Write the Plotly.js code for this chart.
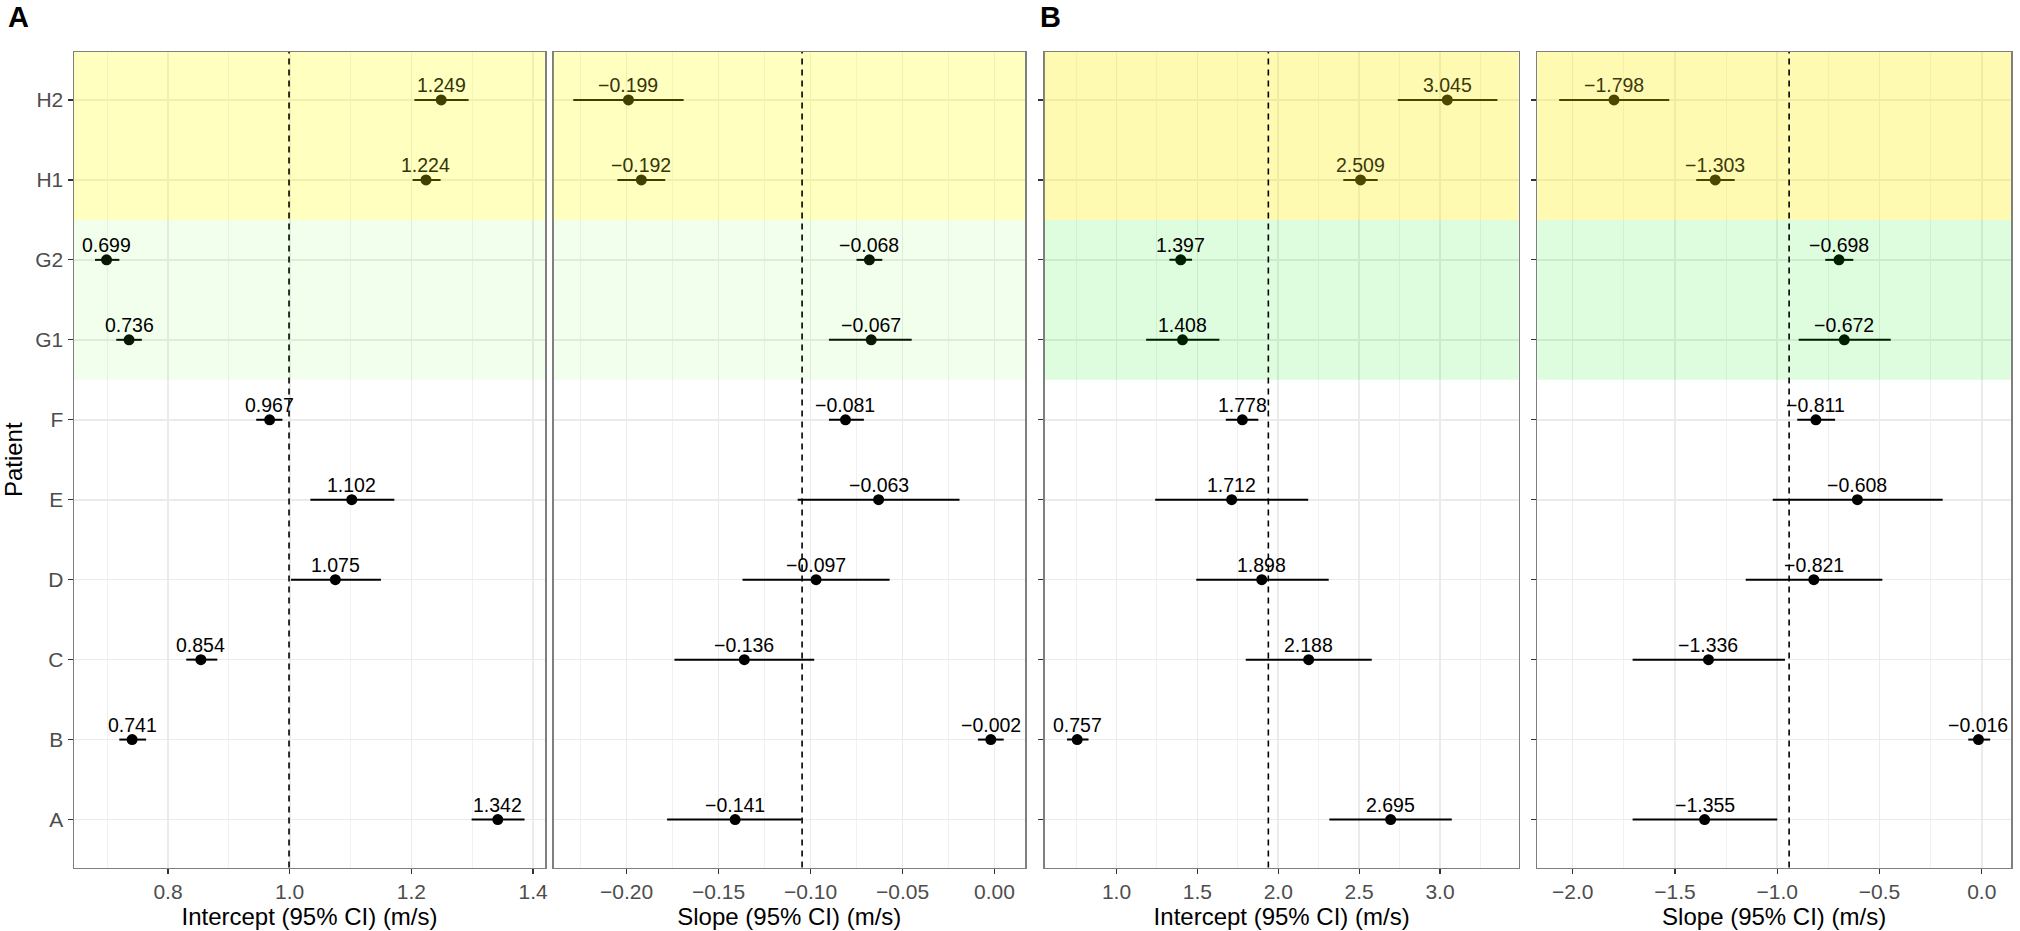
<!DOCTYPE html>
<html>
<head>
<meta charset="utf-8">
<script src="https://cdn.plot.ly/plotly-3.0.1.min.js"></script>
<style>html,body{margin:0;padding:0;background:#fff;}#chart{width:2020px;height:931px;}</style>
</head>
<body>
<div id="chart"></div>
<script>
// ---- data ----
const patients = ['A','B','C','D','E','F','G1','G2','H1','H2'];

const interceptA    = [1.342, 0.741, 0.854, 1.075, 1.102, 0.967, 0.736, 0.699, 1.224, 1.249];
const interceptA_lo = [1.299, 0.720, 0.830, 1.002, 1.034, 0.945, 0.715, 0.680, 1.202, 1.205];
const interceptA_hi = [1.386, 0.764, 0.881, 1.150, 1.172, 0.988, 0.757, 0.720, 1.248, 1.294];

const slopeA    = [-0.141, -0.002, -0.136, -0.097, -0.063, -0.081, -0.067, -0.068, -0.192, -0.199];
const slopeA_lo = [-0.178, -0.009, -0.174, -0.137, -0.107, -0.090, -0.090, -0.075, -0.205, -0.229];
const slopeA_hi = [-0.105,  0.005, -0.098, -0.057, -0.019, -0.071, -0.045, -0.061, -0.179, -0.169];

const interceptB    = [2.695, 0.757, 2.188, 1.898, 1.712, 1.778, 1.408, 1.397, 2.509, 3.045];
const interceptB_lo = [2.316, 0.694, 1.799, 1.493, 1.239, 1.676, 1.183, 1.327, 2.402, 2.739];
const interceptB_hi = [3.073, 0.827, 2.578, 2.312, 2.185, 1.877, 1.636, 1.467, 2.615, 3.355];

const slopeB    = [-1.355, -0.016, -1.336, -0.821, -0.608, -0.811, -0.672, -0.698, -1.303, -1.798];
const slopeB_lo = [-1.707, -0.066, -1.707, -1.154, -1.022, -0.902, -0.895, -0.765, -1.396, -2.066];
const slopeB_hi = [-1.000,  0.041, -0.962, -0.486, -0.191, -0.717, -0.445, -0.628, -1.208, -1.528];

const ticksInterceptA = [0.8, 1.0, 1.2, 1.4];
const ticksSlopeA     = [-0.20, -0.15, -0.10, -0.05, 0.00];
const ticksInterceptB = [1.0, 1.5, 2.0, 2.5, 3.0];
const ticksSlopeB     = [-2.0, -1.5, -1.0, -0.5, 0.0];

const xTitleIntercept = 'Intercept (95% CI) (m/s)';
const xTitleSlope = 'Slope (95% CI) (m/s)';
const yTitle = 'Patient';

// ---- build ----
const FONT = 'Liberation Sans, Arial, Helvetica, sans-serif';
const W = 2020, H = 931;
const px = v => v / W;
const yDom = [(H - 867.5) / H, (H - 52) / H];

const panels = [
  {est: interceptA, lo: interceptA_lo, hi: interceptA_hi, ticks: ticksInterceptA, fmt: '.1f', minor: 0.1,
   range: [0.6455, 1.4196], dom: [px(74), px(545)], title: xTitleIntercept,
   yellow: 'rgba(255,255,0,0.25)', green: 'rgba(110,255,60,0.09)', hText: 'rgb(52,52,8)'},
  {est: slopeA, lo: slopeA_lo, hi: slopeA_hi, ticks: ticksSlopeA, fmt: '.2f', minor: 0.025,
   range: [-0.2397, 0.0166], dom: [px(553.6), px(1025)], title: xTitleSlope,
   yellow: 'rgba(255,255,0,0.25)', green: 'rgba(110,255,60,0.09)', hText: 'rgb(52,52,8)'},
  {est: interceptB, lo: interceptB_lo, hi: interceptB_hi, ticks: ticksInterceptB, fmt: '.1f', minor: 0.25,
   range: [0.556, 3.486], dom: [px(1044.7), px(1518.6)], title: xTitleIntercept,
   yellow: 'rgba(255,240,0,0.30)', green: 'rgba(0,235,0,0.13)', hText: 'rgb(60,58,10)'},
  {est: slopeB, lo: slopeB_lo, hi: slopeB_hi, ticks: ticksSlopeB, fmt: '.1f', minor: 0.25,
   range: [-2.173, 0.143], dom: [px(1537.3), px(2011)], title: xTitleSlope,
   yellow: 'rgba(255,240,0,0.30)', green: 'rgba(0,235,0,0.13)', hText: 'rgb(60,58,10)'}
];

const fmtLabel = v => (v < 0 ? '\u2212' : '') + Math.abs(v).toFixed(3);
const mean = a => a.reduce((s, v) => s + v, 0) / a.length;

const traces = [];
const shapes = [];
const annotations = [
  {text: '<b>A</b>', xref: 'paper', yref: 'paper', x: px(6), y: (H - 17) / H,
   xanchor: 'left', yanchor: 'middle', showarrow: false, font: {size: 29, family: FONT, color: '#000'}},
  {text: '<b>B</b>', xref: 'paper', yref: 'paper', x: px(1038), y: (H - 17) / H,
   xanchor: 'left', yanchor: 'middle', showarrow: false, font: {size: 29, family: FONT, color: '#000'}}
];
const layout = {
  width: W, height: H,
  margin: {l: 0, r: 0, t: 0, b: 0},
  paper_bgcolor: '#fff', plot_bgcolor: '#fff',
  showlegend: false,
  font: {family: FONT, color: '#000'},
  annotations: annotations,
  shapes: shapes
};

const gIdx = patients.indexOf('G1'), hIdx = patients.indexOf('H1');

panels.forEach((p, i) => {
  const n = i === 0 ? '' : String(i + 1);
  const xa = 'x' + n, ya = 'y' + n;
  traces.push({
    type: 'scatter', mode: 'markers',
    x: p.est, y: patients, xaxis: xa, yaxis: ya,
    marker: {size: 11, color: '#000'},
    cliponaxis: false,
    error_x: {type: 'data', symmetric: false,
      array: p.hi.map((h, k) => h - p.est[k]),
      arrayminus: p.lo.map((l, k) => p.est[k] - l),
      width: 0, thickness: 2, color: '#000'},
    hoverinfo: 'skip'
  });
  p.est.forEach((v, k) => {
    annotations.push({
      xref: xa, yref: ya, x: v, y: patients[k], text: fmtLabel(v),
      showarrow: false, xanchor: 'center', yanchor: 'middle', yshift: 15,
      font: {size: 19.5, family: FONT, color: k >= hIdx ? p.hText : '#000'}
    });
  });
  layout['xaxis' + n] = {
    domain: p.dom, anchor: ya, range: p.range,
    tickmode: 'array', tickvals: p.ticks, tickformat: p.fmt,
    tickfont: {size: 21, color: '#4D4D4D', family: FONT},
    ticks: 'outside', ticklen: 5, tickcolor: '#333', tickwidth: 1.2,
    showgrid: true, gridcolor: '#EBEBEB', gridwidth: 1.6,
    minor: {dtick: p.minor, tick0: 0, showgrid: true, gridcolor: '#EFEFEF', gridwidth: 0.9, ticks: ''},
    showline: true, mirror: true, linecolor: '#7F7F7F', linewidth: 1.5,
    zeroline: false, automargin: false,
    title: {text: p.title, font: {size: 24, family: FONT, color: '#000'}, standoff: 5}
  };
  layout['yaxis' + n] = {
    domain: yDom, anchor: xa, type: 'category',
    categoryorder: 'array', categoryarray: patients,
    range: [-0.6, patients.length - 0.4],
    showticklabels: i === 0,
    tickfont: {size: 21, color: '#4D4D4D', family: FONT},
    ticks: i === 1 ? '' : 'outside', ticklen: 5, tickcolor: '#333', tickwidth: 1.2,
    showgrid: true, gridcolor: '#EBEBEB', gridwidth: 1.6,
    showline: true, mirror: true, linecolor: '#7F7F7F', linewidth: 1.5,
    zeroline: false, automargin: false,
    title: i === 0 ? {text: yTitle, font: {size: 24, family: FONT, color: '#000'}, standoff: 6} : {text: ''}
  };
  // group bands (H rows yellow, G rows green)
  shapes.push({type: 'rect', xref: xa + ' domain', yref: ya, x0: 0, x1: 1,
    y0: hIdx - 0.5, y1: patients.length - 0.4, fillcolor: p.yellow, line: {width: 0}, layer: 'above'});
  shapes.push({type: 'rect', xref: xa + ' domain', yref: ya, x0: 0, x1: 1,
    y0: gIdx - 0.5, y1: hIdx - 0.5, fillcolor: p.green, line: {width: 0}, layer: 'above'});
  // dashed mean line
  const m = mean(p.est);
  shapes.push({type: 'line', xref: xa, yref: ya + ' domain', x0: m, x1: m, y0: 0, y1: 1,
    line: {color: '#000', width: 1.6, dash: '6px,5px'}, layer: 'above'});
});

Plotly.newPlot('chart', traces, layout, {displayModeBar: false, staticPlot: true});
</script>
</body>
</html>
